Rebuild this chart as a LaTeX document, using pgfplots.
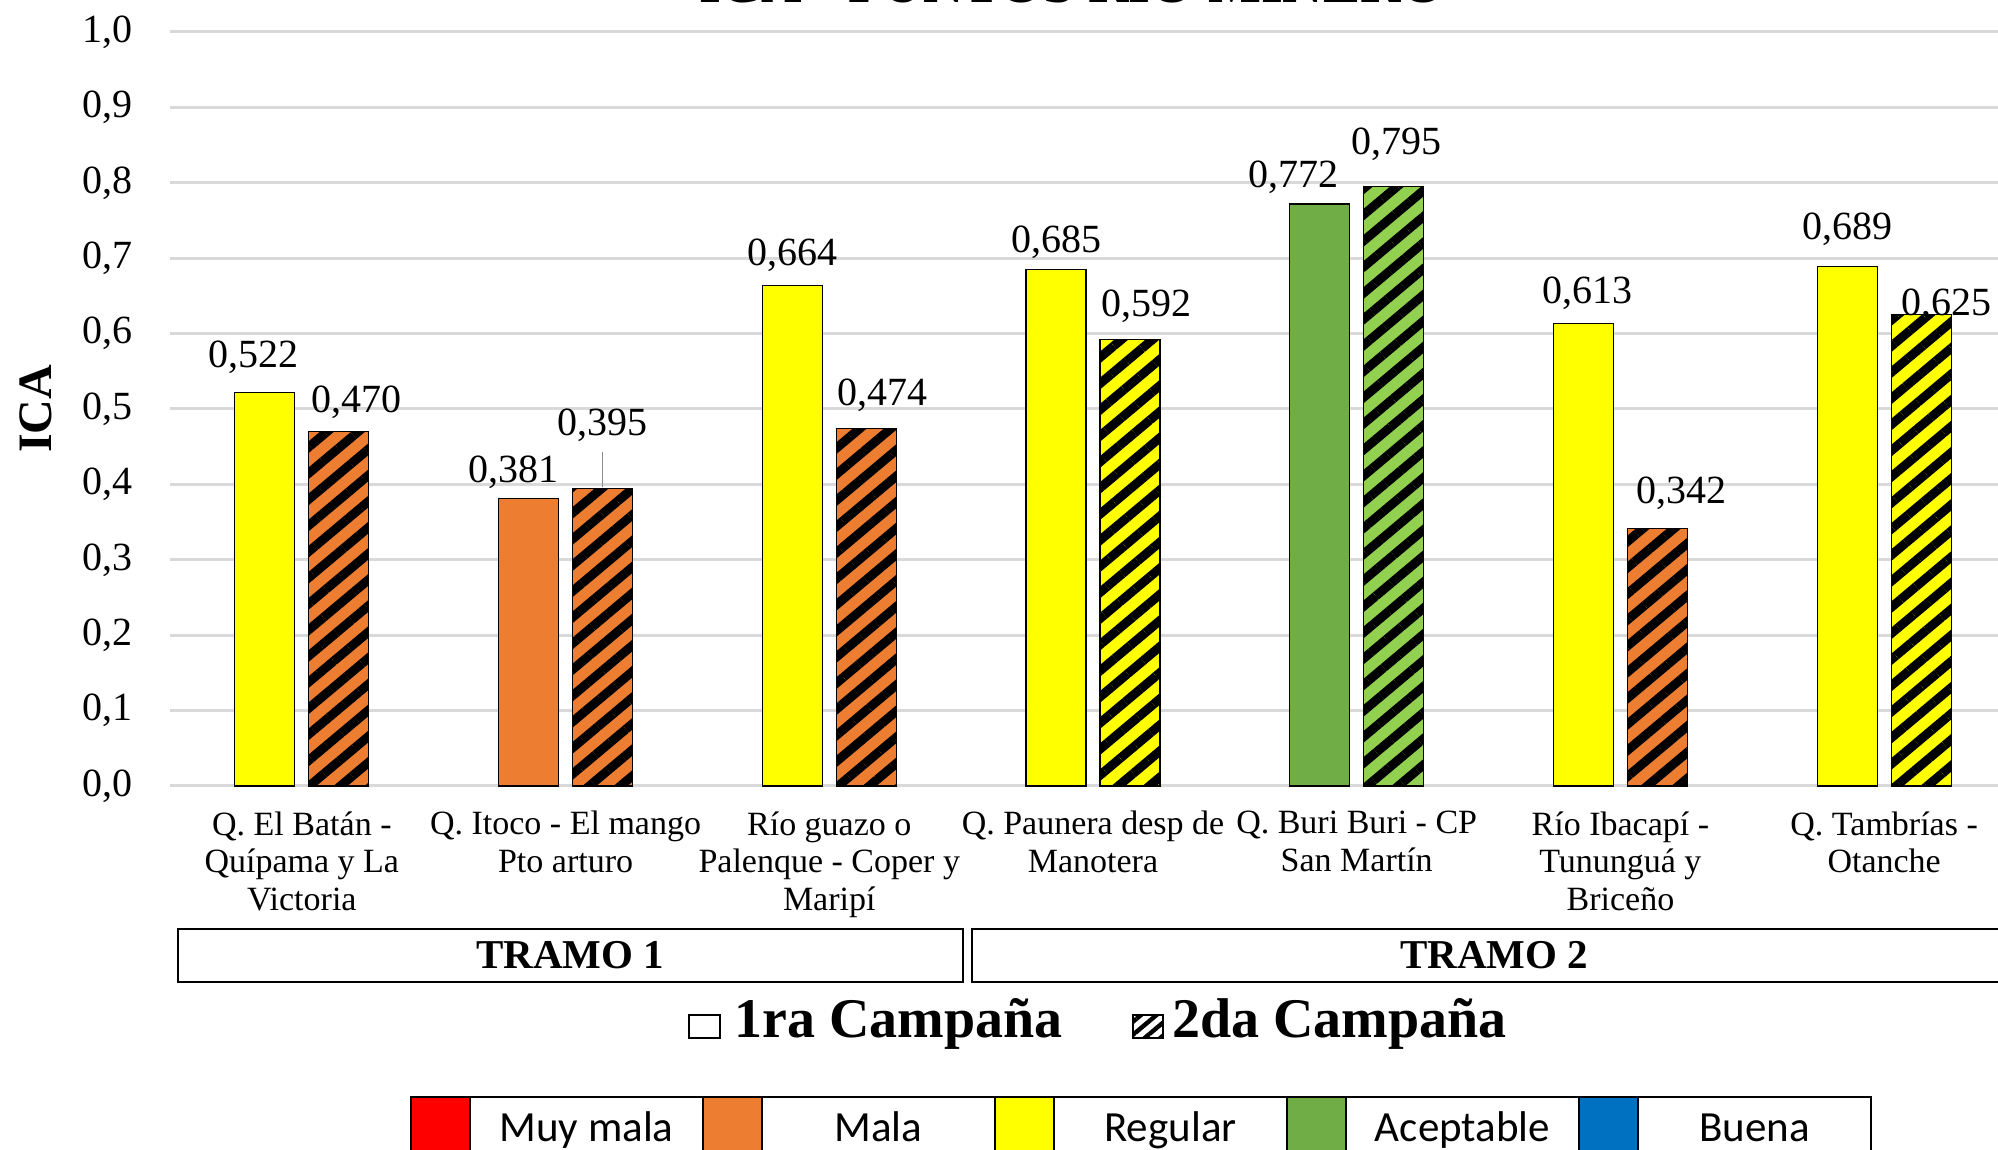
\documentclass[border=0pt]{standalone}
\usepackage{pgfplots}
\pgfplotsset{compat=1.18}
\usepackage{fontspec}
\setmainfont{Liberation Serif}
\newfontfamily\carlito{Carlito}
\usetikzlibrary{patterns.meta}
\definecolor{mala}{HTML}{ED7D31}
\definecolor{regular}{HTML}{FFFF00}
\definecolor{acept}{HTML}{70AD47}
\definecolor{aceptb}{HTML}{92D050}
\definecolor{muymala}{HTML}{FF0000}
\definecolor{buena}{HTML}{0070C0}
\definecolor{gridc}{HTML}{D9D9D9}

\pgfplotsset{
  lbl/.style={
    nodes near coords={\pgfmathprintnumber[use comma,fixed,fixed zerofill,precision=3,assume math mode=true]{\pgfplotspointmeta}},
    visualization depends on={\thisrow{dx} \as \dx},
    visualization depends on={\thisrow{dy} \as \dy},
    every node near coord/.append style={anchor=base, xshift={(\dx+#1)*1pt}, yshift={\dy*1pt},
      font=\fontsize{20}{24}\selectfont, text=black, inner sep=0pt},
  },
  b1/.style={ybar, bar width=30pt, bar shift=-18.5pt, draw=black, line width=0.6pt, lbl=-18.5},
  b2/.style={ybar, bar width=30pt, bar shift=18.5pt, draw=black, line width=0.6pt, lbl=18.5,
     postaction={pattern={Lines[angle=40,distance=10pt,line width=4.5pt]}, pattern color=black}},
}

\begin{document}
\begin{tikzpicture}
\useasboundingbox (0,0) rectangle (999pt,575pt);
\clip (0,0) rectangle (999pt,575pt);
\begin{axis}[
  at={(85pt,182pt)}, anchor=south west,
  scale only axis, width=923pt, height=377pt,
  xmin=-0.5, xmax=6.5, ymin=0, ymax=1,
  clip=false,
  axis line style={draw=none},
  major tick length=0pt,
  ymajorgrids, grid style={gridc, line width=1.5pt},
  ytick={0,0.1,0.2,0.3,0.4,0.5,0.6,0.7,0.8,0.9,1},
  yticklabel style={font=\fontsize{20}{24}\selectfont, anchor=east, inner sep=0pt, xshift=-18.5pt,
    /pgf/number format/use comma, /pgf/number format/fixed,
    /pgf/number format/fixed zerofill, /pgf/number format/precision=1,
    /pgf/number format/assume math mode=true},
  xtick={0,1,2,3,4,5,6},
  xticklabels={
    {Q. El Batán -\\Quípama y La\\Victoria},
    {Q. Itoco - El mango\\Pto arturo},
    {Río guazo o\\Palenque - Coper y\\Maripí},
    {Q. Paunera desp de\\Manotera},
    {Q. Buri Buri - CP\\San Martín},
    {Río Ibacapí -\\Tununguá y\\Briceño},
    {Q. Tambrías -\\Otanche}},
  xticklabel style={align=center, font=\fontsize{17}{18.75}\selectfont, anchor=north, inner sep=0pt, yshift=-12.5pt},
  ylabel={ICA},
  every axis y label/.style={at={(rel axis cs:0,0.5)}, xshift=-67pt, rotate=90, anchor=center,
    font=\bfseries\fontsize{24}{28}\selectfont},
]
% 1ra Campaña
\addplot[b1, fill=regular] table {
x y dx dy
0 0.522 -5.5 12.5
2 0.664 0 10
3 0.685 0 8.5
5 0.613 2 10
6 0.689 0 13.5
};
\addplot[b1, fill=mala] table {
x y dx dy
1 0.381 -7.5 8
};
\addplot[b1, fill=acept] table {
x y dx dy
4 0.772 -13 8
};
% 2da Campaña
\addplot[b2, fill=mala] table {
x y dx dy
0 0.470 9 9.5
1 0.395 0 26.5
2 0.474 8 11.5
5 0.342 12 12.5
};
\addplot[b2, fill=regular] table {
x y dx dy
3 0.592 8 11.5
6 0.625 12.5 -0.5
};
\addplot[b2, fill=aceptb] table {
x y dx dy
4 0.795 1.5 16
};
\draw[black!45, line width=0.8pt] ([xshift=18.5pt]axis cs:1,0.396) -- ([xshift=18.5pt]axis cs:1,0.443);
\end{axis}

% title (cut off at top)
\node[anchor=base, inner sep=0pt, font=\bfseries\fontsize{28}{32}\selectfont] at (536pt,573.5pt) {ICA - PUNTOS RÍO MINERO};

% tramos
\draw[line width=1pt] (89pt,84pt) rectangle (481.5pt,110.5pt);
\draw[line width=1pt] (486pt,84pt) rectangle (1008pt,110.5pt);
\node[font=\bfseries\fontsize{20.5}{24}\selectfont] at (285pt,97.25pt) {TRAMO 1};
\node[font=\bfseries\fontsize{20.5}{24}\selectfont] at (747pt,97.25pt) {TRAMO 2};

% campaign legend
\draw[line width=0.8pt, fill=white] (344.5pt,56pt) rectangle (360pt,67.5pt);
\node[anchor=base west, inner sep=0pt, font=\bfseries\fontsize{28}{32}\selectfont] at (367pt,56pt) {1ra Campaña};
\draw[line width=0.8pt, fill=white, postaction={pattern={Lines[angle=40,distance=5pt,line width=2.2pt]}, pattern color=black}] (566.5pt,56pt) rectangle (581.5pt,67.5pt);
\node[anchor=base west, inner sep=0pt, font=\bfseries\fontsize{28}{32}\selectfont] at (586pt,56pt) {2da Campaña};

% color legend
\foreach \c/\t [count=\i from 0] in {muymala/Muy mala, mala/Mala, regular/Regular, acept/Aceptable, buena/Buena}{
  \pgfmathsetmacro{\xa}{205.5+146*\i}
  \pgfmathsetmacro{\xb}{\xa+29.5}
  \pgfmathsetmacro{\xc}{\xa+146}
  \pgfmathsetmacro{\xt}{\xa+87.75}
  \fill[\c] (\xa pt,-10pt) rectangle (\xb pt,26.5pt);
  \draw[line width=0.8pt] (\xa pt,-10pt) rectangle (\xb pt,26.5pt);
  \draw[line width=0.8pt] (\xb pt,-10pt) rectangle (\xc pt,26.5pt);
  \node[anchor=base, inner sep=0pt, font=\carlito\fontsize{21.5}{26}\selectfont] at (\xt pt,4pt) {\t};
}
\end{tikzpicture}
\end{document}
